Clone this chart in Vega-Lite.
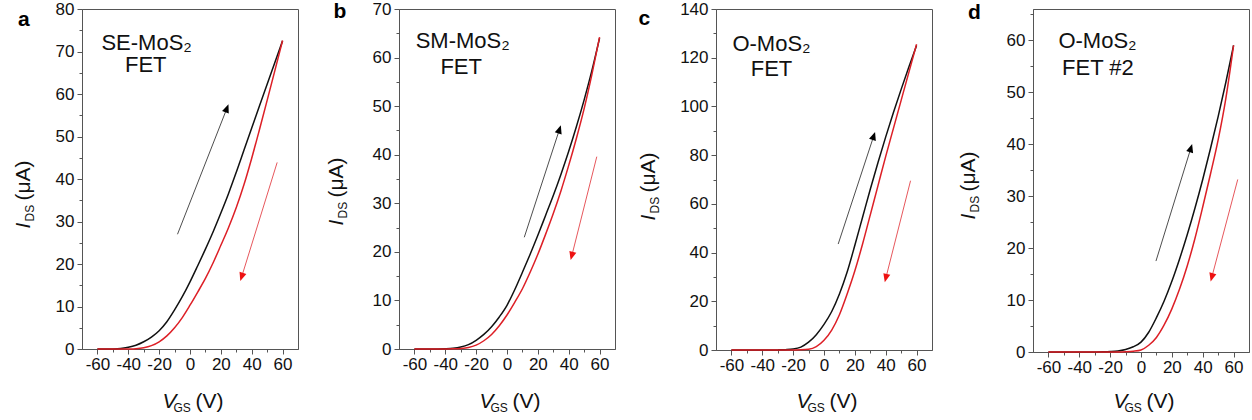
{
  "$schema": "https://vega.github.io/schema/vega-lite/v6.json",
  "padding": {"left": 11, "top": -1, "right": 1, "bottom": 2},
  "background": "white",
  "spacing": 101,
  "bounds": "flush",
  "datasets": {
    "curves": [
      {"p":"a","s":"f","v":-60,"i":0},{"p":"a","s":"f","v":-55,"i":0},{"p":"a","s":"f","v":-50,"i":0.02},{"p":"a","s":"f","v":-45,"i":0.1},{"p":"a","s":"f","v":-40,"i":0.4},{"p":"a","s":"f","v":-35,"i":0.9},{"p":"a","s":"f","v":-30,"i":1.7},{"p":"a","s":"f","v":-25,"i":2.8},{"p":"a","s":"f","v":-20,"i":4.3},{"p":"a","s":"f","v":-15,"i":6.4},{"p":"a","s":"f","v":-10,"i":9.2},{"p":"a","s":"f","v":-5,"i":12.3},{"p":"a","s":"f","v":0,"i":15.8},{"p":"a","s":"f","v":5,"i":19.6},{"p":"a","s":"f","v":10,"i":23.5},{"p":"a","s":"f","v":15,"i":27.6},{"p":"a","s":"f","v":20,"i":32.0},{"p":"a","s":"f","v":25,"i":36.6},{"p":"a","s":"f","v":30,"i":41.6},{"p":"a","s":"f","v":35,"i":46.8},{"p":"a","s":"f","v":40,"i":52.0},{"p":"a","s":"f","v":45,"i":57.2},{"p":"a","s":"f","v":50,"i":62.3},{"p":"a","s":"f","v":55,"i":67.4},{"p":"a","s":"f","v":60,"i":72.5},
      {"p":"a","s":"r","v":-60,"i":0},{"p":"a","s":"r","v":-55,"i":0},{"p":"a","s":"r","v":-50,"i":0},{"p":"a","s":"r","v":-45,"i":0},{"p":"a","s":"r","v":-40,"i":0.02},{"p":"a","s":"r","v":-35,"i":0.08},{"p":"a","s":"r","v":-30,"i":0.3},{"p":"a","s":"r","v":-25,"i":0.8},{"p":"a","s":"r","v":-20,"i":1.7},{"p":"a","s":"r","v":-15,"i":3.1},{"p":"a","s":"r","v":-10,"i":5.0},{"p":"a","s":"r","v":-5,"i":7.4},{"p":"a","s":"r","v":0,"i":10.3},{"p":"a","s":"r","v":5,"i":13.4},{"p":"a","s":"r","v":10,"i":16.6},{"p":"a","s":"r","v":15,"i":20.3},{"p":"a","s":"r","v":20,"i":24.4},{"p":"a","s":"r","v":25,"i":28.6},{"p":"a","s":"r","v":30,"i":33.3},{"p":"a","s":"r","v":35,"i":38.7},{"p":"a","s":"r","v":40,"i":44.9},{"p":"a","s":"r","v":45,"i":51.6},{"p":"a","s":"r","v":50,"i":58.5},{"p":"a","s":"r","v":55,"i":65.5},{"p":"a","s":"r","v":60,"i":72.6},
      {"p":"b","s":"f","v":-60,"i":0},{"p":"b","s":"f","v":-55,"i":0},{"p":"b","s":"f","v":-50,"i":0},{"p":"b","s":"f","v":-45,"i":0.01},{"p":"b","s":"f","v":-40,"i":0.05},{"p":"b","s":"f","v":-35,"i":0.15},{"p":"b","s":"f","v":-30,"i":0.4},{"p":"b","s":"f","v":-25,"i":0.9},{"p":"b","s":"f","v":-20,"i":1.8},{"p":"b","s":"f","v":-15,"i":3.0},{"p":"b","s":"f","v":-10,"i":4.6},{"p":"b","s":"f","v":-5,"i":6.6},{"p":"b","s":"f","v":0,"i":9.0},{"p":"b","s":"f","v":5,"i":12.2},{"p":"b","s":"f","v":10,"i":15.8},{"p":"b","s":"f","v":15,"i":19.5},{"p":"b","s":"f","v":20,"i":23.4},{"p":"b","s":"f","v":25,"i":27.5},{"p":"b","s":"f","v":30,"i":31.6},{"p":"b","s":"f","v":35,"i":36.0},{"p":"b","s":"f","v":40,"i":40.7},{"p":"b","s":"f","v":45,"i":45.8},{"p":"b","s":"f","v":50,"i":51.3},{"p":"b","s":"f","v":55,"i":57.3},{"p":"b","s":"f","v":60,"i":64.0},
      {"p":"b","s":"r","v":-60,"i":0},{"p":"b","s":"r","v":-55,"i":0},{"p":"b","s":"r","v":-50,"i":0},{"p":"b","s":"r","v":-45,"i":0},{"p":"b","s":"r","v":-40,"i":0.01},{"p":"b","s":"r","v":-35,"i":0.03},{"p":"b","s":"r","v":-30,"i":0.1},{"p":"b","s":"r","v":-25,"i":0.3},{"p":"b","s":"r","v":-20,"i":0.8},{"p":"b","s":"r","v":-15,"i":1.7},{"p":"b","s":"r","v":-10,"i":3.0},{"p":"b","s":"r","v":-5,"i":4.8},{"p":"b","s":"r","v":0,"i":7.0},{"p":"b","s":"r","v":5,"i":9.6},{"p":"b","s":"r","v":10,"i":12.4},{"p":"b","s":"r","v":15,"i":15.8},{"p":"b","s":"r","v":20,"i":19.5},{"p":"b","s":"r","v":25,"i":23.6},{"p":"b","s":"r","v":30,"i":27.9},{"p":"b","s":"r","v":35,"i":32.6},{"p":"b","s":"r","v":40,"i":37.8},{"p":"b","s":"r","v":45,"i":43.4},{"p":"b","s":"r","v":50,"i":49.5},{"p":"b","s":"r","v":55,"i":56.5},{"p":"b","s":"r","v":60,"i":64.2},
      {"p":"c","s":"f","v":-60,"i":0},{"p":"c","s":"f","v":-55,"i":0},{"p":"c","s":"f","v":-50,"i":0},{"p":"c","s":"f","v":-45,"i":0},{"p":"c","s":"f","v":-40,"i":0},{"p":"c","s":"f","v":-35,"i":0.01},{"p":"c","s":"f","v":-30,"i":0.05},{"p":"c","s":"f","v":-25,"i":0.15},{"p":"c","s":"f","v":-20,"i":0.4},{"p":"c","s":"f","v":-15,"i":1.2},{"p":"c","s":"f","v":-10,"i":3.2},{"p":"c","s":"f","v":-5,"i":6.3},{"p":"c","s":"f","v":0,"i":10.5},{"p":"c","s":"f","v":5,"i":15.8},{"p":"c","s":"f","v":10,"i":23.0},{"p":"c","s":"f","v":15,"i":32.0},{"p":"c","s":"f","v":20,"i":43.0},{"p":"c","s":"f","v":25,"i":54.5},{"p":"c","s":"f","v":30,"i":66.0},{"p":"c","s":"f","v":35,"i":77.0},{"p":"c","s":"f","v":40,"i":87.5},{"p":"c","s":"f","v":45,"i":97.5},{"p":"c","s":"f","v":50,"i":107.0},{"p":"c","s":"f","v":55,"i":116.2},{"p":"c","s":"f","v":60,"i":125.0},
      {"p":"c","s":"r","v":-60,"i":0},{"p":"c","s":"r","v":-55,"i":0},{"p":"c","s":"r","v":-50,"i":0},{"p":"c","s":"r","v":-45,"i":0},{"p":"c","s":"r","v":-40,"i":0},{"p":"c","s":"r","v":-35,"i":0},{"p":"c","s":"r","v":-30,"i":0},{"p":"c","s":"r","v":-25,"i":0.01},{"p":"c","s":"r","v":-20,"i":0.03},{"p":"c","s":"r","v":-15,"i":0.08},{"p":"c","s":"r","v":-10,"i":0.3},{"p":"c","s":"r","v":-5,"i":1.4},{"p":"c","s":"r","v":0,"i":4.0},{"p":"c","s":"r","v":5,"i":8.2},{"p":"c","s":"r","v":10,"i":14.5},{"p":"c","s":"r","v":15,"i":23.0},{"p":"c","s":"r","v":20,"i":32.5},{"p":"c","s":"r","v":25,"i":43.5},{"p":"c","s":"r","v":30,"i":55.5},{"p":"c","s":"r","v":35,"i":67.5},{"p":"c","s":"r","v":40,"i":79.5},{"p":"c","s":"r","v":45,"i":91.0},{"p":"c","s":"r","v":50,"i":102.5},{"p":"c","s":"r","v":55,"i":114.0},{"p":"c","s":"r","v":60,"i":125.5},
      {"p":"d","s":"f","v":-60,"i":0},{"p":"d","s":"f","v":-55,"i":0},{"p":"d","s":"f","v":-50,"i":0},{"p":"d","s":"f","v":-45,"i":0},{"p":"d","s":"f","v":-40,"i":0},{"p":"d","s":"f","v":-35,"i":0},{"p":"d","s":"f","v":-30,"i":0.01},{"p":"d","s":"f","v":-25,"i":0.03},{"p":"d","s":"f","v":-20,"i":0.08},{"p":"d","s":"f","v":-15,"i":0.2},{"p":"d","s":"f","v":-10,"i":0.5},{"p":"d","s":"f","v":-5,"i":1.0},{"p":"d","s":"f","v":0,"i":1.9},{"p":"d","s":"f","v":5,"i":3.8},{"p":"d","s":"f","v":10,"i":6.6},{"p":"d","s":"f","v":15,"i":9.8},{"p":"d","s":"f","v":20,"i":13.6},{"p":"d","s":"f","v":25,"i":17.9},{"p":"d","s":"f","v":30,"i":22.6},{"p":"d","s":"f","v":35,"i":27.7},{"p":"d","s":"f","v":40,"i":33.2},{"p":"d","s":"f","v":45,"i":39.1},{"p":"d","s":"f","v":50,"i":45.3},{"p":"d","s":"f","v":55,"i":51.9},{"p":"d","s":"f","v":60,"i":59.0},
      {"p":"d","s":"r","v":-60,"i":0},{"p":"d","s":"r","v":-55,"i":0},{"p":"d","s":"r","v":-50,"i":0},{"p":"d","s":"r","v":-45,"i":0},{"p":"d","s":"r","v":-40,"i":0},{"p":"d","s":"r","v":-35,"i":0},{"p":"d","s":"r","v":-30,"i":0},{"p":"d","s":"r","v":-25,"i":0},{"p":"d","s":"r","v":-20,"i":0.01},{"p":"d","s":"r","v":-15,"i":0.01},{"p":"d","s":"r","v":-10,"i":0.05},{"p":"d","s":"r","v":-5,"i":0.15},{"p":"d","s":"r","v":0,"i":0.4},{"p":"d","s":"r","v":5,"i":1.3},{"p":"d","s":"r","v":10,"i":2.8},{"p":"d","s":"r","v":15,"i":5.2},{"p":"d","s":"r","v":20,"i":8.3},{"p":"d","s":"r","v":25,"i":12.1},{"p":"d","s":"r","v":30,"i":16.6},{"p":"d","s":"r","v":35,"i":21.9},{"p":"d","s":"r","v":40,"i":27.9},{"p":"d","s":"r","v":45,"i":34.2},{"p":"d","s":"r","v":50,"i":40.8},{"p":"d","s":"r","v":55,"i":48.8},{"p":"d","s":"r","v":60,"i":59.0}
    ],
    "arrows": [
      {"p":"a","s":"f","v1":-8.1,"i1":27.0,"v2":23.9,"i2":56.6},
      {"p":"a","s":"r","v1":56.5,"i1":43.9,"v2":33.5,"i2":17.0},
      {"p":"b","s":"f","v1":11.2,"i1":23.0,"v2":34.0,"i2":45.2},
      {"p":"b","s":"r","v1":58.2,"i1":39.6,"v2":42.0,"i2":19.2},
      {"p":"c","s":"f","v1":9.2,"i1":43.5,"v2":32.2,"i2":87.8},
      {"p":"c","s":"r","v1":56.1,"i1":69.5,"v2":40.1,"i2":29.6},
      {"p":"d","s":"f","v1":9.7,"i1":17.5,"v2":32.3,"i2":39.2},
      {"p":"d","s":"r","v1":62.7,"i1":33.2,"v2":45.9,"i2":14.4}
    ],
    "notes": [
      {"p":"a","k":"n","v":-28.1,"i":70.4,"t":"SE-MoS₂"},
      {"p":"a","k":"n","v":-28.7,"i":65.2,"t":"FET"},
      {"p":"a","k":"L","v":-107.7,"i":76.1,"t":"a"},
      {"p":"b","k":"n","v":-28.7,"i":61.9,"t":"SM-MoS₂"},
      {"p":"b","k":"n","v":-29.7,"i":56.7,"t":"FET"},
      {"p":"b","k":"L","v":-108.3,"i":68.2,"t":"b"},
      {"p":"c","k":"n","v":-34,"i":122.9,"t":"O-MoS₂"},
      {"p":"c","k":"n","v":-34,"i":112.6,"t":"FET"},
      {"p":"c","k":"L","v":-116.4,"i":133.4,"t":"c"},
      {"p":"d","k":"n","v":-28.2,"i":58.5,"t":"O-MoS₂"},
      {"p":"d","k":"n","v":-27.9,"i":53.3,"t":"FET #2"},
      {"p":"d","k":"L","v":-107.9,"i":64.1,"t":"d"}
    ]
  },
  "hconcat": [
    {
      "width": 216, "height": 340,
      "layer": [
        {"data": {"name": "curves"}, "transform": [{"filter": "datum.p == 'a'"}],
         "mark": {"type": "line", "strokeWidth": 1.5, "interpolate": "monotone"},
         "encoding": {
           "x": {"field": "v", "type": "quantitative", "scale": {"domain": [-70, 70], "nice": false},
                 "axis": {"orient": "bottom", "values": [-60,-40,-20,0,20,40,60], "tickSize": 5, "labelExpr": "'' + datum.value", "labelPadding": 2, "title": "V", "titleFontStyle": "italic", "titleFontSize": 21, "titleX": 80, "titleY": 58, "titleAlign": "left", "titleBaseline": "alphabetic", "titleAngle": 0}},
           "y": {"field": "i", "type": "quantitative", "scale": {"domain": [0, 80], "nice": false},
                 "axis": {"orient": "left", "values": [0,10,20,30,40,50,60,70,80], "tickSize": 5, "labelPadding": 3, "title": "I", "titleFontStyle": "italic", "titleFontSize": 21, "titleX": -53, "titleY": 219, "titleAlign": "left", "titleBaseline": "alphabetic", "titleAngle": 270}},
           "color": {"field": "s", "type": "nominal", "scale": {"domain": ["f","r"], "range": ["#111111","#dd1f26"]}, "legend": null}
         }},
        {"data": {"name": "arrows"}, "transform": [{"filter": "datum.p == 'a'"}],
         "mark": {"type": "rule", "strokeWidth": 1, "opacity": 0.75},
         "encoding": {
           "x": {"field": "v1", "type": "quantitative", "scale": {"domain": [-70, 70], "nice": false},
                 "axis": {"orient": "bottom", "values": [-50,-30,-10,10,30,50], "tickSize": 3, "labels": false, "domain": false, "title": "GS", "titleFontSize": 12, "titleX": 91, "titleY": 62, "titleAlign": "left", "titleBaseline": "alphabetic", "titleAngle": 0}},
           "y": {"field": "i1", "type": "quantitative", "scale": {"domain": [0, 80], "nice": false},
                 "axis": {"orient": "left", "values": [5,15,25,35,45,55,65,75], "tickSize": 3, "labels": false, "domain": false, "title": "DS", "titleFontSize": 12, "titleX": -49, "titleY": 212, "titleAlign": "left", "titleBaseline": "alphabetic", "titleAngle": 270}},
           "x2": {"field": "v2"}, "y2": {"field": "i2"},
           "color": {"field": "s", "type": "nominal", "scale": {"domain": ["f","r"], "range": ["#111111","#dd1f26"]}, "legend": null}
         }},
        {"data": {"name": "arrows"}, "transform": [{"filter": "datum.p == 'a' && datum.s == 'f'"}],
         "mark": {"type": "point", "shape": "M0,-1L-0.8,0.9L0.8,0.9Z", "filled": true, "size": 80, "angle": 21, "color": "#000000", "opacity": 1},
         "encoding": {
           "x": {"field": "v2", "type": "quantitative", "scale": {"domain": [-70, 70], "nice": false},
                 "axis": {"orient": "bottom", "ticks": false, "labels": false, "domain": false, "title": "(V)", "titleFontSize": 21, "titleX": 113, "titleY": 58, "titleAlign": "left", "titleBaseline": "alphabetic", "titleAngle": 0}},
           "y": {"field": "i2", "type": "quantitative", "scale": {"domain": [0, 80], "nice": false},
                 "axis": {"orient": "left", "ticks": false, "labels": false, "domain": false, "title": "(μA)", "titleFontSize": 21, "titleX": -53, "titleY": 191, "titleAlign": "left", "titleBaseline": "alphabetic", "titleAngle": 270}}
         }},
        {"data": {"name": "arrows"}, "transform": [{"filter": "datum.p == 'a' && datum.s == 'r'"}],
         "mark": {"type": "point", "shape": "M0,-1L-0.8,0.9L0.8,0.9Z", "filled": true, "size": 80, "angle": 198, "color": "#ee1111", "opacity": 1},
         "encoding": {
           "x": {"field": "v2", "type": "quantitative", "scale": {"domain": [-70, 70], "nice": false}, "axis": null},
           "y": {"field": "i2", "type": "quantitative", "scale": {"domain": [0, 80], "nice": false}, "axis": null}
         }},
        {"data": {"name": "notes"}, "transform": [{"filter": "datum.p == 'a' && datum.k == 'n'"}],
         "mark": {"type": "text", "fontSize": 22, "align": "center", "baseline": "alphabetic", "color": "#111111"},
         "encoding": {
           "x": {"field": "v", "type": "quantitative", "scale": {"domain": [-70, 70], "nice": false}, "axis": null},
           "y": {"field": "i", "type": "quantitative", "scale": {"domain": [0, 80], "nice": false}, "axis": null},
           "text": {"field": "t"}
         }},
        {"data": {"name": "notes"}, "transform": [{"filter": "datum.p == 'a' && datum.k == 'L'"}],
         "mark": {"type": "text", "fontSize": 21, "fontWeight": "bold", "align": "center", "baseline": "alphabetic", "color": "#000000"},
         "encoding": {
           "x": {"field": "v", "type": "quantitative", "scale": {"domain": [-70, 70], "nice": false}, "axis": null},
           "y": {"field": "i", "type": "quantitative", "scale": {"domain": [0, 80], "nice": false}, "axis": null},
           "text": {"field": "t"}
         }}
      ],
      "resolve": {"axis": {"x": "independent", "y": "independent"}}
    },
    {
      "width": 216, "height": 340,
      "layer": [
        {"data": {"name": "curves"}, "transform": [{"filter": "datum.p == 'b'"}],
         "mark": {"type": "line", "strokeWidth": 1.5, "interpolate": "monotone"},
         "encoding": {
           "x": {"field": "v", "type": "quantitative", "scale": {"domain": [-70, 70], "nice": false},
                 "axis": {"orient": "bottom", "values": [-60,-40,-20,0,20,40,60], "tickSize": 5, "labelExpr": "'' + datum.value", "labelPadding": 2, "title": "V", "titleFontStyle": "italic", "titleFontSize": 21, "titleX": 80, "titleY": 58, "titleAlign": "left", "titleBaseline": "alphabetic", "titleAngle": 0}},
           "y": {"field": "i", "type": "quantitative", "scale": {"domain": [0, 70], "nice": false},
                 "axis": {"orient": "left", "values": [0,10,20,30,40,50,60,70], "tickSize": 5, "labelPadding": 3, "title": "I", "titleFontStyle": "italic", "titleFontSize": 21, "titleX": -57, "titleY": 216, "titleAlign": "left", "titleBaseline": "alphabetic", "titleAngle": 270}},
           "color": {"field": "s", "type": "nominal", "scale": {"domain": ["f","r"], "range": ["#111111","#dd1f26"]}, "legend": null}
         }},
        {"data": {"name": "arrows"}, "transform": [{"filter": "datum.p == 'b'"}],
         "mark": {"type": "rule", "strokeWidth": 1, "opacity": 0.75},
         "encoding": {
           "x": {"field": "v1", "type": "quantitative", "scale": {"domain": [-70, 70], "nice": false},
                 "axis": {"orient": "bottom", "values": [-50,-30,-10,10,30,50], "tickSize": 3, "labels": false, "domain": false, "title": "GS", "titleFontSize": 12, "titleX": 91, "titleY": 62, "titleAlign": "left", "titleBaseline": "alphabetic", "titleAngle": 0}},
           "y": {"field": "i1", "type": "quantitative", "scale": {"domain": [0, 70], "nice": false},
                 "axis": {"orient": "left", "values": [5,15,25,35,45,55,65], "tickSize": 3, "labels": false, "domain": false, "title": "DS", "titleFontSize": 12, "titleX": -53, "titleY": 209, "titleAlign": "left", "titleBaseline": "alphabetic", "titleAngle": 270}},
           "x2": {"field": "v2"}, "y2": {"field": "i2"},
           "color": {"field": "s", "type": "nominal", "scale": {"domain": ["f","r"], "range": ["#111111","#dd1f26"]}, "legend": null}
         }},
        {"data": {"name": "arrows"}, "transform": [{"filter": "datum.p == 'b' && datum.s == 'f'"}],
         "mark": {"type": "point", "shape": "M0,-1L-0.8,0.9L0.8,0.9Z", "filled": true, "size": 80, "angle": 18, "color": "#000000", "opacity": 1},
         "encoding": {
           "x": {"field": "v2", "type": "quantitative", "scale": {"domain": [-70, 70], "nice": false},
                 "axis": {"orient": "bottom", "ticks": false, "labels": false, "domain": false, "title": "(V)", "titleFontSize": 21, "titleX": 113, "titleY": 58, "titleAlign": "left", "titleBaseline": "alphabetic", "titleAngle": 0}},
           "y": {"field": "i2", "type": "quantitative", "scale": {"domain": [0, 70], "nice": false},
                 "axis": {"orient": "left", "ticks": false, "labels": false, "domain": false, "title": "(μA)", "titleFontSize": 21, "titleX": -57, "titleY": 188, "titleAlign": "left", "titleBaseline": "alphabetic", "titleAngle": 270}}
         }},
        {"data": {"name": "arrows"}, "transform": [{"filter": "datum.p == 'b' && datum.s == 'r'"}],
         "mark": {"type": "point", "shape": "M0,-1L-0.8,0.9L0.8,0.9Z", "filled": true, "size": 80, "angle": 195, "color": "#ee1111", "opacity": 1},
         "encoding": {
           "x": {"field": "v2", "type": "quantitative", "scale": {"domain": [-70, 70], "nice": false}, "axis": null},
           "y": {"field": "i2", "type": "quantitative", "scale": {"domain": [0, 70], "nice": false}, "axis": null}
         }},
        {"data": {"name": "notes"}, "transform": [{"filter": "datum.p == 'b' && datum.k == 'n'"}],
         "mark": {"type": "text", "fontSize": 22, "align": "center", "baseline": "alphabetic", "color": "#111111"},
         "encoding": {
           "x": {"field": "v", "type": "quantitative", "scale": {"domain": [-70, 70], "nice": false}, "axis": null},
           "y": {"field": "i", "type": "quantitative", "scale": {"domain": [0, 70], "nice": false}, "axis": null},
           "text": {"field": "t"}
         }},
        {"data": {"name": "notes"}, "transform": [{"filter": "datum.p == 'b' && datum.k == 'L'"}],
         "mark": {"type": "text", "fontSize": 21, "fontWeight": "bold", "align": "center", "baseline": "alphabetic", "color": "#000000"},
         "encoding": {
           "x": {"field": "v", "type": "quantitative", "scale": {"domain": [-70, 70], "nice": false}, "axis": null},
           "y": {"field": "i", "type": "quantitative", "scale": {"domain": [0, 70], "nice": false}, "axis": null},
           "text": {"field": "t"}
         }}
      ],
      "resolve": {"axis": {"x": "independent", "y": "independent"}}
    },
    {
      "width": 216, "height": 341,
      "layer": [
        {"data": {"name": "curves"}, "transform": [{"filter": "datum.p == 'c'"}],
         "mark": {"type": "line", "strokeWidth": 1.5, "interpolate": "monotone"},
         "encoding": {
           "x": {"field": "v", "type": "quantitative", "scale": {"domain": [-70, 70], "nice": false},
                 "axis": {"orient": "bottom", "values": [-60,-40,-20,0,20,40,60], "tickSize": 5, "labelExpr": "'' + datum.value", "labelPadding": 2, "title": "V", "titleFontStyle": "italic", "titleFontSize": 21, "titleX": 80, "titleY": 57, "titleAlign": "left", "titleBaseline": "alphabetic", "titleAngle": 0}},
           "y": {"field": "i", "type": "quantitative", "scale": {"domain": [0, 140], "nice": false},
                 "axis": {"orient": "left", "values": [0,20,40,60,80,100,120,140], "tickSize": 5, "labelPadding": 3, "title": "I", "titleFontStyle": "italic", "titleFontSize": 21, "titleX": -62, "titleY": 211, "titleAlign": "left", "titleBaseline": "alphabetic", "titleAngle": 270}},
           "color": {"field": "s", "type": "nominal", "scale": {"domain": ["f","r"], "range": ["#111111","#dd1f26"]}, "legend": null}
         }},
        {"data": {"name": "arrows"}, "transform": [{"filter": "datum.p == 'c'"}],
         "mark": {"type": "rule", "strokeWidth": 1, "opacity": 0.75},
         "encoding": {
           "x": {"field": "v1", "type": "quantitative", "scale": {"domain": [-70, 70], "nice": false},
                 "axis": {"orient": "bottom", "values": [-50,-30,-10,10,30,50], "tickSize": 3, "labels": false, "domain": false, "title": "GS", "titleFontSize": 12, "titleX": 91, "titleY": 61, "titleAlign": "left", "titleBaseline": "alphabetic", "titleAngle": 0}},
           "y": {"field": "i1", "type": "quantitative", "scale": {"domain": [0, 140], "nice": false},
                 "axis": {"orient": "left", "values": [10,30,50,70,90,110,130], "tickSize": 3, "labels": false, "domain": false, "title": "DS", "titleFontSize": 12, "titleX": -58, "titleY": 204, "titleAlign": "left", "titleBaseline": "alphabetic", "titleAngle": 270}},
           "x2": {"field": "v2"}, "y2": {"field": "i2"},
           "color": {"field": "s", "type": "nominal", "scale": {"domain": ["f","r"], "range": ["#111111","#dd1f26"]}, "legend": null}
         }},
        {"data": {"name": "arrows"}, "transform": [{"filter": "datum.p == 'c' && datum.s == 'f'"}],
         "mark": {"type": "point", "shape": "M0,-1L-0.8,0.9L0.8,0.9Z", "filled": true, "size": 80, "angle": 18, "color": "#000000", "opacity": 1},
         "encoding": {
           "x": {"field": "v2", "type": "quantitative", "scale": {"domain": [-70, 70], "nice": false},
                 "axis": {"orient": "bottom", "ticks": false, "labels": false, "domain": false, "title": "(V)", "titleFontSize": 21, "titleX": 113, "titleY": 57, "titleAlign": "left", "titleBaseline": "alphabetic", "titleAngle": 0}},
           "y": {"field": "i2", "type": "quantitative", "scale": {"domain": [0, 140], "nice": false},
                 "axis": {"orient": "left", "ticks": false, "labels": false, "domain": false, "title": "(μA)", "titleFontSize": 21, "titleX": -62, "titleY": 183, "titleAlign": "left", "titleBaseline": "alphabetic", "titleAngle": 270}}
         }},
        {"data": {"name": "arrows"}, "transform": [{"filter": "datum.p == 'c' && datum.s == 'r'"}],
         "mark": {"type": "point", "shape": "M0,-1L-0.8,0.9L0.8,0.9Z", "filled": true, "size": 80, "angle": 194, "color": "#ee1111", "opacity": 1},
         "encoding": {
           "x": {"field": "v2", "type": "quantitative", "scale": {"domain": [-70, 70], "nice": false}, "axis": null},
           "y": {"field": "i2", "type": "quantitative", "scale": {"domain": [0, 140], "nice": false}, "axis": null}
         }},
        {"data": {"name": "notes"}, "transform": [{"filter": "datum.p == 'c' && datum.k == 'n'"}],
         "mark": {"type": "text", "fontSize": 22, "align": "center", "baseline": "alphabetic", "color": "#111111"},
         "encoding": {
           "x": {"field": "v", "type": "quantitative", "scale": {"domain": [-70, 70], "nice": false}, "axis": null},
           "y": {"field": "i", "type": "quantitative", "scale": {"domain": [0, 140], "nice": false}, "axis": null},
           "text": {"field": "t"}
         }},
        {"data": {"name": "notes"}, "transform": [{"filter": "datum.p == 'c' && datum.k == 'L'"}],
         "mark": {"type": "text", "fontSize": 21, "fontWeight": "bold", "align": "center", "baseline": "alphabetic", "color": "#000000"},
         "encoding": {
           "x": {"field": "v", "type": "quantitative", "scale": {"domain": [-70, 70], "nice": false}, "axis": null},
           "y": {"field": "i", "type": "quantitative", "scale": {"domain": [0, 140], "nice": false}, "axis": null},
           "text": {"field": "t"}
         }}
      ],
      "resolve": {"axis": {"x": "independent", "y": "independent"}}
    },
    {
      "width": 216, "height": 343,
      "layer": [
        {"data": {"name": "curves"}, "transform": [{"filter": "datum.p == 'd'"}],
         "mark": {"type": "line", "strokeWidth": 1.5, "interpolate": "monotone"},
         "encoding": {
           "x": {"field": "v", "type": "quantitative", "scale": {"domain": [-70, 70], "nice": false},
                 "axis": {"orient": "bottom", "values": [-60,-40,-20,0,20,40,60], "tickSize": 5, "labelExpr": "'' + datum.value", "labelPadding": 2, "title": "V", "titleFontStyle": "italic", "titleFontSize": 21, "titleX": 80, "titleY": 55, "titleAlign": "left", "titleBaseline": "alphabetic", "titleAngle": 0}},
           "y": {"field": "i", "type": "quantitative", "scale": {"domain": [0, 66], "nice": false},
                 "axis": {"orient": "left", "values": [0,10,20,30,40,50,60], "tickSize": 5, "labelPadding": 3, "title": "I", "titleFontStyle": "italic", "titleFontSize": 21, "titleX": -59, "titleY": 210, "titleAlign": "left", "titleBaseline": "alphabetic", "titleAngle": 270}},
           "color": {"field": "s", "type": "nominal", "scale": {"domain": ["f","r"], "range": ["#111111","#dd1f26"]}, "legend": null}
         }},
        {"data": {"name": "arrows"}, "transform": [{"filter": "datum.p == 'd'"}],
         "mark": {"type": "rule", "strokeWidth": 1, "opacity": 0.75},
         "encoding": {
           "x": {"field": "v1", "type": "quantitative", "scale": {"domain": [-70, 70], "nice": false},
                 "axis": {"orient": "bottom", "values": [-50,-30,-10,10,30,50], "tickSize": 3, "labels": false, "domain": false, "title": "GS", "titleFontSize": 12, "titleX": 91, "titleY": 59, "titleAlign": "left", "titleBaseline": "alphabetic", "titleAngle": 0}},
           "y": {"field": "i1", "type": "quantitative", "scale": {"domain": [0, 66], "nice": false},
                 "axis": {"orient": "left", "values": [5,15,25,35,45,55,65], "tickSize": 3, "labels": false, "domain": false, "title": "DS", "titleFontSize": 12, "titleX": -55, "titleY": 203, "titleAlign": "left", "titleBaseline": "alphabetic", "titleAngle": 270}},
           "x2": {"field": "v2"}, "y2": {"field": "i2"},
           "color": {"field": "s", "type": "nominal", "scale": {"domain": ["f","r"], "range": ["#111111","#dd1f26"]}, "legend": null}
         }},
        {"data": {"name": "arrows"}, "transform": [{"filter": "datum.p == 'd' && datum.s == 'f'"}],
         "mark": {"type": "point", "shape": "M0,-1L-0.8,0.9L0.8,0.9Z", "filled": true, "size": 80, "angle": 17, "color": "#000000", "opacity": 1},
         "encoding": {
           "x": {"field": "v2", "type": "quantitative", "scale": {"domain": [-70, 70], "nice": false},
                 "axis": {"orient": "bottom", "ticks": false, "labels": false, "domain": false, "title": "(V)", "titleFontSize": 21, "titleX": 113, "titleY": 55, "titleAlign": "left", "titleBaseline": "alphabetic", "titleAngle": 0}},
           "y": {"field": "i2", "type": "quantitative", "scale": {"domain": [0, 66], "nice": false},
                 "axis": {"orient": "left", "ticks": false, "labels": false, "domain": false, "title": "(μA)", "titleFontSize": 21, "titleX": -59, "titleY": 182, "titleAlign": "left", "titleBaseline": "alphabetic", "titleAngle": 270}}
         }},
        {"data": {"name": "arrows"}, "transform": [{"filter": "datum.p == 'd' && datum.s == 'r'"}],
         "mark": {"type": "point", "shape": "M0,-1L-0.8,0.9L0.8,0.9Z", "filled": true, "size": 80, "angle": 195, "color": "#ee1111", "opacity": 1},
         "encoding": {
           "x": {"field": "v2", "type": "quantitative", "scale": {"domain": [-70, 70], "nice": false}, "axis": null},
           "y": {"field": "i2", "type": "quantitative", "scale": {"domain": [0, 66], "nice": false}, "axis": null}
         }},
        {"data": {"name": "notes"}, "transform": [{"filter": "datum.p == 'd' && datum.k == 'n'"}],
         "mark": {"type": "text", "fontSize": 22, "align": "center", "baseline": "alphabetic", "color": "#111111"},
         "encoding": {
           "x": {"field": "v", "type": "quantitative", "scale": {"domain": [-70, 70], "nice": false}, "axis": null},
           "y": {"field": "i", "type": "quantitative", "scale": {"domain": [0, 66], "nice": false}, "axis": null},
           "text": {"field": "t"}
         }},
        {"data": {"name": "notes"}, "transform": [{"filter": "datum.p == 'd' && datum.k == 'L'"}],
         "mark": {"type": "text", "fontSize": 21, "fontWeight": "bold", "align": "center", "baseline": "alphabetic", "color": "#000000"},
         "encoding": {
           "x": {"field": "v", "type": "quantitative", "scale": {"domain": [-70, 70], "nice": false}, "axis": null},
           "y": {"field": "i", "type": "quantitative", "scale": {"domain": [0, 66], "nice": false}, "axis": null},
           "text": {"field": "t"}
         }}
      ],
      "resolve": {"axis": {"x": "independent", "y": "independent"}}
    }
  ],
  "config": {
    "font": "Liberation Sans",
    "view": {"stroke": "#555555", "strokeWidth": 1},
    "axis": {"grid": false, "domainColor": "#555555", "domainWidth": 1, "tickColor": "#555555", "tickWidth": 1, "labelColor": "#111111", "labelFont": "Liberation Sans", "labelFontSize": 17, "titleFont": "Liberation Sans", "titleColor": "#111111", "titleFontWeight": "normal"},
    "text": {"font": "Liberation Sans"}
  }
}
